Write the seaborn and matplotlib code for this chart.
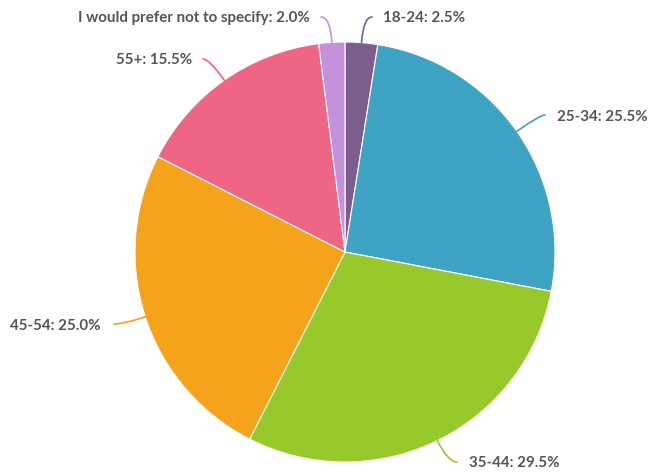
import numpy as np
import matplotlib
matplotlib.use("Agg")
import matplotlib.pyplot as plt
import seaborn as sns

categories = ["18-24", "25-34", "35-44", "45-54", "55+", "I would prefer not to specify"]
values = [2.5, 25.5, 29.5, 25.0, 15.5, 2.0]
colors = ["#7B5E8E", "#3FA3C3", "#98C92A", "#F5A31B", "#EF6585", "#C491DC"]

sns.set_theme(style="white")
plt.rcParams['font.family'] = ['Lato', 'DejaVu Sans']

W, H = 648, 472
fig = plt.figure(figsize=(W / 100, H / 100), dpi=100)
ax = fig.add_axes([0, 0, 1, 1])
ax.set_xlim(0, W)
ax.set_ylim(0, H)
ax.set_aspect('equal')
ax.axis('off')

cx, cy, R = 345, H - 252, 210
wedges, _ = ax.pie(values, colors=colors, startangle=90, counterclock=False,
                   center=(cx, cy), radius=R, frame=True,
                   wedgeprops=dict(edgecolor='white', linewidth=0.8))
ax.set_xlim(0, W)
ax.set_ylim(0, H)
ax.axis('off')

# label anchor (end of leader line) and text positions in pixel coords (y from top)
anchors = {
    "18-24": ((372, 17), (383, 18), 'left'),
    "25-34": ((545, 115), (557, 117), 'left'),
    "35-44": ((457, 462), (469, 463), 'left'),
    "45-54": ((114, 324), (101, 326), 'right'),
    "55+": ((203, 59), (192, 60), 'right'),
    "I would prefer not to specify": ((321, 17), (310, 18), 'right'),
}

for w, cat, val, col in zip(wedges, categories, values, colors):
    mid = np.deg2rad((w.theta1 + w.theta2) / 2)
    ex, ey = cx + R * np.cos(mid), cy + R * np.sin(mid)
    (lx, ly), (tx, ty), ha = anchors[cat]
    ang_deg = np.rad2deg(mid)
    ax.annotate('', xy=(ex, ey), xytext=(lx, H - ly),
                arrowprops=dict(arrowstyle='-', color=col, lw=1.2,
                                shrinkA=0, shrinkB=0,
                                connectionstyle=f"angle3,angleA=0,angleB={ang_deg:.1f}"))
    ax.text(tx, H - ty, f"{cat}: {val:.1f}%", ha=ha, va='center',
            fontsize=10.9, fontweight='bold', color='#555555')

fig.savefig("out.png", dpi=100)
